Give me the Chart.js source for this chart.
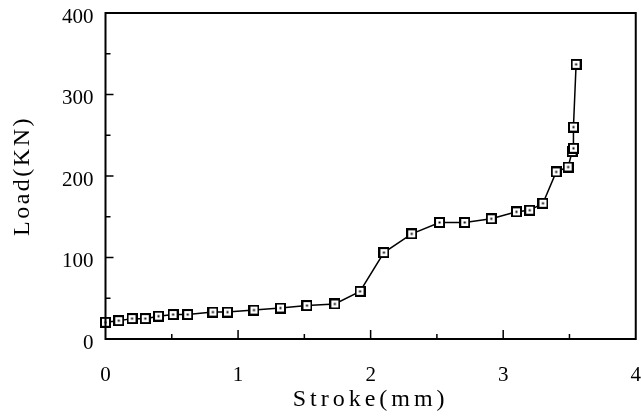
<!DOCTYPE html>
<html>
<head>
<meta charset="utf-8">
<script src="https://cdn.jsdelivr.net/npm/chart.js@4/dist/chart.umd.min.js"></script>
<style>
  html, body { margin: 0; padding: 0; background: #fff; }
  #wrap { width: 641px; height: 416px; }
</style>
</head>
<body>
<div id="wrap"><canvas id="chart"></canvas></div>
<script>
// values
var strokeMm = [0, 0.1, 0.2, 0.3, 0.4, 0.51, 0.62, 0.81, 0.92, 1.12, 1.32, 1.52, 1.73, 1.92, 2.1, 2.31, 2.52, 2.71, 2.91, 3.1, 3.2, 3.3, 3.4, 3.49, 3.52, 3.53, 3.53, 3.55];
var loadKN = [20.5, 22.5, 25, 25, 28, 30, 30, 33, 33, 35.5, 38, 41, 43, 58.5, 106, 129, 143, 143, 147.5, 156, 158, 166.5, 205, 211, 230, 234, 260, 337];
var xTicks = [0, 1, 2, 3, 4];
var yTicks = [0, 100, 200, 300, 400];
var xTitle = 'Stroke(mm)';
var yTitle = 'Load(KN)';

var serif = 'Liberation Serif';

// square marker with a dot in the middle
function makeMarker() {
    var c = document.createElement('canvas');
    c.width = 11;
    c.height = 11;
    var g = c.getContext('2d');
    g.fillStyle = '#fff';
    g.fillRect(1, 1, 9, 9);
    g.strokeStyle = '#000';
    g.lineWidth = 2;
    g.strokeRect(1, 1, 9, 9);
    g.fillStyle = '#000';
    g.fillRect(4.5, 4.5, 2, 2);
    return c;
}

// linear scale whose title is drawn with wider letter spacing (like the scan)
class SpacedLinear extends Chart.LinearScale {
    drawTitle() {
        var ctx = this.ctx;
        ctx.save();
        ctx.letterSpacing = this.id == 'x' ? '4px' : '2.5px';
        super.drawTitle();
        ctx.restore();
    }
}
SpacedLinear.id = 'spacedLinear';
SpacedLinear.defaults = Chart.LinearScale.defaults;
Chart.register(SpacedLinear);

// frame round the plot and inward ticks
var frameTicks = {
    id: 'frameTicks',
    afterDraw: function(chart) {
        var ctx = chart.ctx;
        var a = chart.chartArea;
        var xs = chart.scales.x;
        var ys = chart.scales.y;
        ctx.save();
        ctx.strokeStyle = '#000';
        ctx.lineWidth = 2;
        ctx.strokeRect(a.left, a.top, a.right - a.left, a.bottom - a.top);
        ctx.lineWidth = 1.5;
        ctx.beginPath();
        for (var v = 0.5; v < 4; v += 0.5) {
            var px = xs.getPixelForValue(v);
            var len = (v % 1 == 0) ? 9 : 5;
            ctx.moveTo(px, a.bottom);
            ctx.lineTo(px, a.bottom - len);
        }
        for (var w = 50; w < 400; w += 50) {
            var py = ys.getPixelForValue(w);
            var len2 = (w % 100 == 0) ? 8 : 5;
            ctx.moveTo(a.left, py);
            ctx.lineTo(a.left + len2, py);
        }
        ctx.stroke();
        ctx.restore();
    }
};

var points = [];
for (var i = 0; i < strokeMm.length; i++) {
    points.push({x: strokeMm[i], y: loadKN[i]});
}

var ctx = document.getElementById('chart').getContext('2d');
var chart = new Chart(ctx, {
    type: 'scatter',
    data: {
        datasets: [{
            label: yTitle,
            data: points,
            showLine: true,
            borderColor: '#000',
            borderWidth: 1.5,
            tension: 0,
            pointStyle: makeMarker(),
            pointRadius: 5,
            clip: false
        }]
    },
    options: {
        responsive: true,
        maintainAspectRatio: false,
        animation: false,
        events: [],
        layout: { autoPadding: false, padding: { left: 11, right: 3, top: 13, bottom: 4 } },
        plugins: {
            legend: { display: false },
            tooltip: { enabled: false }
        },
        scales: {
            x: {
                type: 'spacedLinear',
                min: 0,
                max: 4,
                afterBuildTicks: function(scale) {
                    scale.ticks = xTicks.map(function(v) { return {value: v}; });
                },
                // invisible tick marks keep the gap between axis and labels
                grid: { display: false, drawTicks: true, tickLength: 26 },
                border: { display: false },
                ticks: {
                    color: '#000',
                    padding: 0,
                    maxRotation: 0,
                    font: { family: serif, size: 21, lineHeight: 1 }
                },
                title: {
                    display: true,
                    text: xTitle,
                    color: '#000',
                    padding: { top: 2, bottom: 0 },
                    font: { family: serif, size: 24, lineHeight: 1 }
                }
            },
            y: {
                type: 'spacedLinear',
                min: 0,
                max: 400,
                afterBuildTicks: function(scale) {
                    scale.ticks = yTicks.map(function(v) { return {value: v}; });
                },
                grid: { display: false, drawTicks: true, tickLength: 10 },
                border: { display: false },
                ticks: {
                    color: '#000',
                    padding: 2,
                    labelOffset: 4,
                    font: { family: serif, size: 21, lineHeight: 1 }
                },
                title: {
                    display: true,
                    text: yTitle,
                    color: '#000',
                    padding: { top: 0, bottom: 25 },
                    font: { family: serif, size: 24, lineHeight: 1 }
                }
            }
        }
    },
    plugins: [frameTicks]
});
</script>
</body>
</html>
